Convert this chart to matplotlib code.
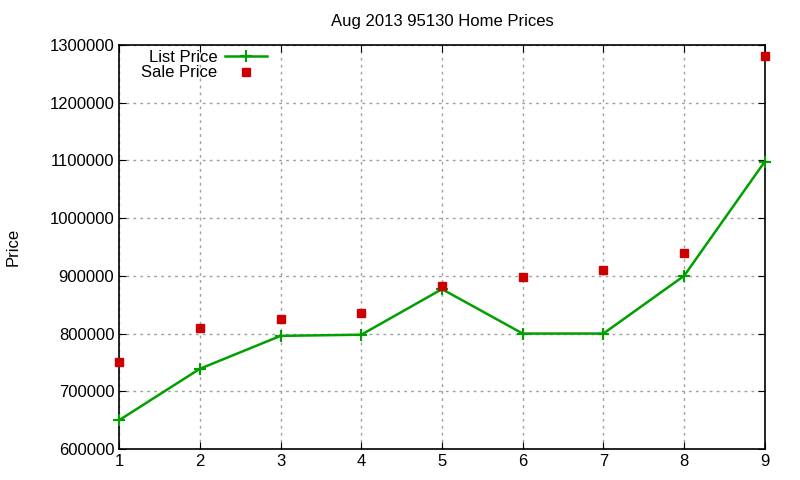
import matplotlib
matplotlib.use('Agg')
from matplotlib import pyplot as plt
from matplotlib.ticker import FormatStrFormatter

plt.rcParams['font.family'] = ['Liberation Sans', 'DejaVu Sans']

# data
months = [1, 2, 3, 4, 5, 6, 7, 8, 9]
list_price = [650000, 739000, 796000, 798000, 877000, 800000, 800000, 900000, 1098000]
sale_price = [751000, 810000, 825000, 836000, 883000, 898000, 910000, 940000, 1281000]

fig = plt.figure(figsize=(8, 4.8), dpi=100)
ax = fig.add_axes([0.149, 0.0646, 0.807, 0.8417])

ax.plot(months, list_price, color='#00a000', lw=1.8, marker='+', ms=8, mew=1.5,
        label='List Price', clip_on=False, zorder=3)
ax.plot(months, sale_price, color='#cc0000', ls='none', marker='s', ms=6,
        label='Sale Price', clip_on=False, zorder=4)

# format plot
ax.set_xlim(1, 9)
ax.set_ylim(600000, 1300000)
ax.set_yticks(range(600000, 1300001, 100000))
ax.yaxis.set_major_formatter(FormatStrFormatter('%d'))
ax.set_xticks(months)
ax.grid(True, color='#a0a0a0', ls=(0, (2, 3)), lw=1)
ax.tick_params(direction='in', top=True, right=True, labelsize=12, length=5)
for s in ax.spines.values():
    s.set_linewidth(1.2)
ax.set_ylabel('Price', fontsize=12)
ax.yaxis.set_label_coords(-0.153, 0.5)
ax.set_title('Aug 2013 95130 Home Prices', fontsize=12, pad=14)
ax.legend(loc='upper left', bbox_to_anchor=(0.029, 0.997), markerfirst=False, frameon=False,
          fontsize=12, handlelength=2.5, labelspacing=0.05, borderaxespad=0, borderpad=0.2,
          handletextpad=0.45)

plt.savefig('out.png', dpi=100)
